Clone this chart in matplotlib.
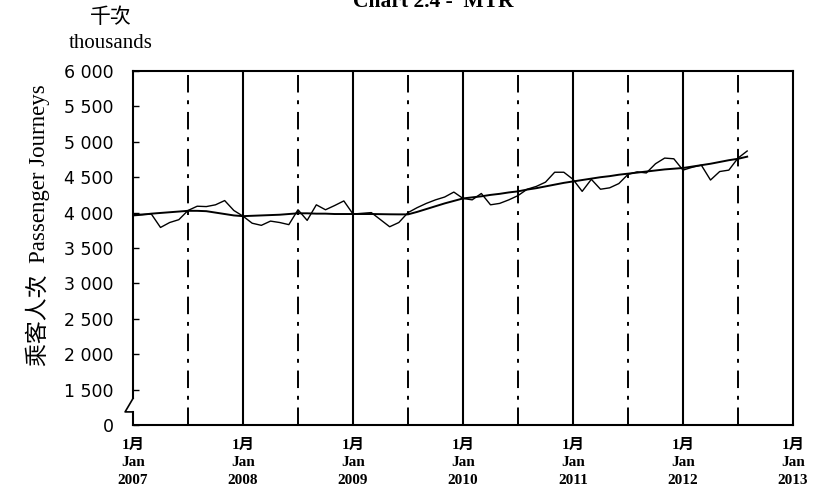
import matplotlib
matplotlib.use('Agg')
import matplotlib.pyplot as plt
import numpy as np

plt.rcParams['font.family'] = ['Liberation Serif', 'Noto Sans CJK TC', 'DejaVu Sans']

# Monthly passenger journeys (thousands), Jan 2007 - Aug 2012
monthly = [
    3975, 3975, 3980, 3790, 3860, 3900, 4030, 4090, 4085, 4110, 4170, 4030,   # 2007
    3950, 3850, 3820, 3880, 3860, 3830, 4040, 3890, 4110, 4040, 4100, 4165,   # 2008
    3980, 3990, 4000, 3900, 3800, 3860, 4000, 4070, 4130, 4180, 4220, 4290,   # 2009
    4200, 4180, 4270, 4110, 4130, 4180, 4240, 4330, 4370, 4430, 4570, 4570,   # 2010
    4470, 4300, 4470, 4330, 4350, 4410, 4540, 4575, 4560, 4690, 4770, 4760,   # 2011
    4600, 4640, 4670, 4460, 4580, 4600, 4770, 4870,                           # 2012
]
# trend line
trend = [
    3960, 3970, 3985, 3995, 4005, 4015, 4025, 4025, 4020, 4000, 3980, 3960,
    3950, 3955, 3960, 3965, 3970, 3980, 3990, 3990, 3985, 3985, 3980, 3980,
    3980, 3980, 3980, 3978, 3976, 3975, 3975, 4010, 4050, 4090, 4130, 4165,
    4200, 4215, 4230, 4250, 4265, 4285, 4300, 4325, 4345, 4370, 4395, 4420,
    4440, 4460, 4480, 4500, 4515, 4535, 4550, 4565, 4580, 4595, 4610, 4620,
    4630, 4650, 4670, 4690, 4715, 4740, 4760, 4790,
]
years = ['2007', '2008', '2009', '2010', '2011', '2012', '2013']
y_ticks = [0, 1500, 2000, 2500, 3000, 3500, 4000, 4500, 5000, 5500, 6000]

months = np.arange(len(monthly))


# broken axis: 0-1500 squeezed into one step
def fwd(v):
    v = np.asarray(v, dtype=float)
    return np.where(v < 1500, v / 3.0, v - 1000)


def inv(p):
    p = np.asarray(p, dtype=float)
    return np.where(p < 500, p * 3.0, p + 1000)


fig = plt.figure(figsize=(8.14, 4.96), dpi=100)
ax = fig.add_axes([133 / 814, 1 - 425 / 496, 660 / 814, 354 / 496])
ax.set_yscale('function', functions=(fwd, inv))
ax.set_ylim(0, 6000)
ax.set_xlim(0, 72)

# year (solid) and mid-year (dash-dot) lines
for i in range(1, 6):
    ax.axvline(12 * i, color='black', lw=1.5, zorder=1)
for i in range(6):
    ax.axvline(12 * i + 6, color='black', lw=1.4, ls=(0, (9, 4, 2, 4)), zorder=1)

ax.plot(months, monthly, color='black', lw=1.0, zorder=3)
ax.plot(months, trend, color='black', lw=1.4, zorder=3)

ax.set_yticks(y_ticks)
ax.set_yticklabels([f'{v:,}'.replace(',', ' ') for v in y_ticks], fontsize=12.5,
                   family=['DejaVu Sans'])
ax.set_xticks(np.arange(0, 73, 12))
ax.set_xticklabels([f'1月\nJan\n{y}' for y in years], fontsize=11,
                   fontweight='bold', linespacing=1.45)
ax.tick_params(axis='x', length=0, pad=10)
ax.tick_params(axis='y', direction='in', length=4, width=1, pad=14)

for s in ['top', 'right', 'bottom']:
    ax.spines[s].set_linewidth(1.5)
ax.spines['left'].set_visible(False)

# left axis with break mark
tr = ax.transAxes
ax.plot([0, 0], [0, 0.037], color='black', lw=1.5, transform=tr, clip_on=False)
ax.plot([0, 0], [0.075, 1], color='black', lw=1.5, transform=tr, clip_on=False)
ax.plot([0, -0.012, 0], [0.075, 0.037, 0.037], color='black', lw=1.2,
        transform=tr, clip_on=False)

fig.text(38 / 814, 1 - 225 / 496, '乘客人次  Passenger Journeys', rotation=90,
         ha='center', va='center', fontsize=16.5)

fig.text(111 / 814, 1 - 18 / 496, '千次', ha='center', va='center', fontsize=15)
fig.text(111 / 814, 1 - 43 / 496, 'thousands', ha='center', va='center', fontsize=15)
fig.text(433 / 814, 1 - 7 / 496, 'Chart 2.4 -  MTR', ha='center', va='baseline',
         fontsize=15.5, fontweight='bold')

fig.savefig('out.png', dpi=100)
